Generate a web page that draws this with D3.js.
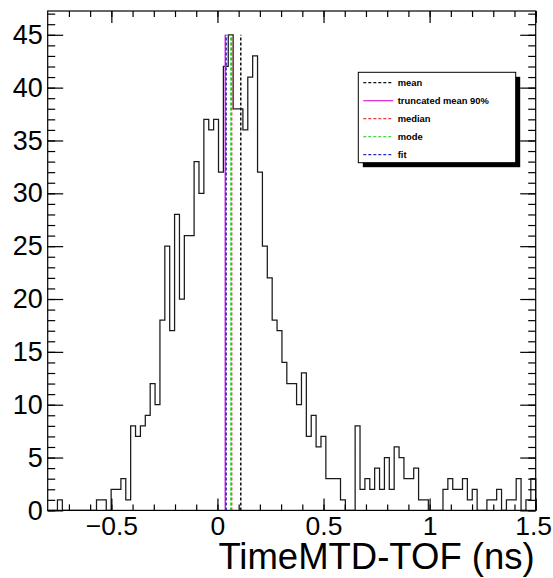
<!DOCTYPE html>
<html>
<head>
<meta charset="utf-8">
<script src="https://cdn.jsdelivr.net/npm/d3@7"></script>
<style>
  html, body { margin: 0; padding: 0; background: #fff; }
  svg { display: block; }
  text { font-family: "Liberation Sans", Arial, Helvetica, sans-serif; }
</style>
</head>
<body>
<svg id="chart" width="553" height="578"></svg>
<script>
// Histogram of TimeMTD-TOF: 100 equal bins over [-0.8, 1.5] ns
const binRange = [-0.8, 1.5];
const binCounts = [
  0, 0, 1, 0, 0, 0, 0, 0, 0, 0,
  1, 1, 0, 2, 2, 3, 1, 8, 7, 8,
  9, 12, 10, 18, 25, 17, 28, 20, 26, 26,
  33, 30, 37, 36, 37, 32, 42, 45, 38, 38,
  36, 41, 43, 32, 25, 22, 18, 17, 14, 12,
  12, 10, 13, 7, 9, 6, 7, 3, 3, 3,
  1, 0, 0, 8, 2, 3, 2, 4, 2, 5,
  2, 6, 5, 3, 3, 4, 1, 1, 0, 0,
  0, 2, 3, 2, 2, 3, 1, 2, 0, 0,
  1, 1, 2, 0, 1, 1, 3, 0, 1, 3
];

// Summary statistics drawn as vertical markers (ns)
const statNames  = ["mean", "truncated mean 90%", "median", "mode", "fit"];
const statValues = [0.110, 0.037, 0.067, 0.0625, 0.041];
const statColors = ["#111111", "#dd22dd", "#ee3b3b", "#3fdc3f", "#2a2acc"];
const statDashed = [true, false, true, true, true];

// Axis ticks
const xMajorTicks = [-0.5, 0, 0.5, 1, 1.5];
const xTickLabels = ["\u22120.5", "0", "0.5", "1", "1.5"];
const xMinorTicks = d3.range(-7, 16).map(d => d / 10);
const yMajorTicks = [0, 5, 10, 15, 20, 25, 30, 35, 40, 45];
const yMinorTicks = d3.range(0, 48);

const W = 553, H = 578;
const frame = { left: 47.7, right: 535.7, top: 11, bottom: 510.4 };
const yMax = 1.05 * d3.max(binCounts);

const x = d3.scaleLinear().domain(binRange).range([frame.left, frame.right]);
const y = d3.scaleLinear().domain([0, yMax]).range([frame.bottom, frame.top]);

const svg = d3.select("#chart");
svg.append("rect").attr("width", W).attr("height", H).attr("fill", "#fff");

const nBins = binCounts.length;
const binW = (binRange[1] - binRange[0]) / nBins;
const edge = i => binRange[0] + i * binW;

// Step outline of the histogram
const pts = [[edge(0), 0]];
binCounts.forEach((c, i) => { pts.push([edge(i), c]); pts.push([edge(i + 1), c]); });
pts.push([edge(nBins), 0]);
const stepLine = d3.line().x(d => x(d[0])).y(d => y(d[1]));

const plot = svg.append("g");
plot.append("path")
  .attr("d", stepLine(pts))
  .attr("fill", "none")
  .attr("stroke", "#1a1a1a")
  .attr("stroke-width", 1.25)
  .attr("stroke-linejoin", "miter");

// Statistic markers from 0 up to the histogram maximum
const peak = d3.max(binCounts);
statValues.forEach((v, i) => {
  plot.append("line")
    .attr("x1", x(v)).attr("x2", x(v))
    .attr("y1", y(0)).attr("y2", y(peak))
    .attr("stroke", statColors[i])
    .attr("stroke-width", 1.5)
    .attr("stroke-dasharray", statDashed[i] ? "3,2" : null);
});

// Frame
svg.append("rect")
  .attr("x", frame.left).attr("y", frame.top)
  .attr("width", frame.right - frame.left).attr("height", frame.bottom - frame.top)
  .attr("fill", "none").attr("stroke", "#000").attr("stroke-width", 1.2);

const tickStyle = g => {
  g.select(".domain").remove();
  g.selectAll(".tick line").attr("stroke", "#000").attr("stroke-width", 1.2);
};

// Bottom axis: minor then major ticks with labels
svg.append("g").attr("transform", `translate(0,${frame.bottom})`)
  .call(d3.axisBottom(x).tickValues(xMinorTicks).tickSizeInner(-6).tickSizeOuter(0).tickFormat(""))
  .call(tickStyle);
const xAxis = svg.append("g").attr("transform", `translate(0,${frame.bottom})`)
  .call(d3.axisBottom(x).tickValues(xMajorTicks).tickSizeInner(-12).tickSizeOuter(0)
    .tickPadding(6).tickFormat((d, i) => xTickLabels[i]))
  .call(tickStyle);
xAxis.selectAll("text").attr("font-size", 26.5).attr("fill", "#000");
// keep the last label inside the page
xAxis.selectAll("text").each(function () {
  const bb = this.getBBox();
  const t = d3.select(this.parentNode).attr("transform");
  const tx = +t.match(/translate\(([-\d.]+)/)[1];
  const over = tx + bb.x + bb.width - (W - 1);
  if (over > 0) d3.select(this).attr("x", -over);
});

// Top axis ticks
svg.append("g").attr("transform", `translate(0,${frame.top})`)
  .call(d3.axisTop(x).tickValues(xMinorTicks).tickSizeInner(-6).tickSizeOuter(0).tickFormat(""))
  .call(tickStyle);
svg.append("g").attr("transform", `translate(0,${frame.top})`)
  .call(d3.axisTop(x).tickValues(xMajorTicks).tickSizeInner(-12).tickSizeOuter(0).tickFormat(""))
  .call(tickStyle);

// Left axis
svg.append("g").attr("transform", `translate(${frame.left},0)`)
  .call(d3.axisLeft(y).tickValues(yMinorTicks).tickSizeInner(-7.5).tickSizeOuter(0).tickFormat(""))
  .call(tickStyle);
const yAxis = svg.append("g").attr("transform", `translate(${frame.left},0)`)
  .call(d3.axisLeft(y).tickValues(yMajorTicks).tickSizeInner(-15.5).tickSizeOuter(0).tickPadding(5))
  .call(tickStyle);
yAxis.selectAll("text").attr("font-size", 27).attr("fill", "#000");

// Right axis ticks
svg.append("g").attr("transform", `translate(${frame.right},0)`)
  .call(d3.axisRight(y).tickValues(yMinorTicks).tickSizeInner(-7.5).tickSizeOuter(0).tickFormat(""))
  .call(tickStyle);
svg.append("g").attr("transform", `translate(${frame.right},0)`)
  .call(d3.axisRight(y).tickValues(yMajorTicks).tickSizeInner(-15.5).tickSizeOuter(0).tickFormat(""))
  .call(tickStyle);

// Axis title
svg.append("text")
  .attr("x", frame.right - 1).attr("y", 569)
  .attr("text-anchor", "end")
  .attr("font-size", 36.5)
  .attr("fill", "#000")
  .text("TimeMTD-TOF (ns)");

// Legend with drop shadow
const lg = { x: 358.3, y: 72.3, w: 157.4, h: 90.4, shadow: 4.5 };
svg.append("rect")
  .attr("x", lg.x + lg.shadow).attr("y", lg.y + lg.shadow)
  .attr("width", lg.w).attr("height", lg.h).attr("fill", "#000");
svg.append("rect")
  .attr("x", lg.x).attr("y", lg.y).attr("width", lg.w).attr("height", lg.h)
  .attr("fill", "#fff").attr("stroke", "#000").attr("stroke-width", 1);

statNames.forEach((name, i) => {
  const cy = lg.y + 10.4 + i * 18;
  svg.append("line")
    .attr("x1", lg.x + 5).attr("x2", lg.x + 35)
    .attr("y1", cy).attr("y2", cy)
    .attr("stroke", statColors[i]).attr("stroke-width", 1.2)
    .attr("stroke-dasharray", statDashed[i] ? "3,2" : null);
  svg.append("text")
    .attr("x", lg.x + 39.4).attr("y", cy)
    .attr("dy", "0.35em")
    .attr("font-size", 9.4).attr("font-weight", "bold")
    .attr("fill", "#000")
    .text(name);
});
</script>
</body>
</html>
